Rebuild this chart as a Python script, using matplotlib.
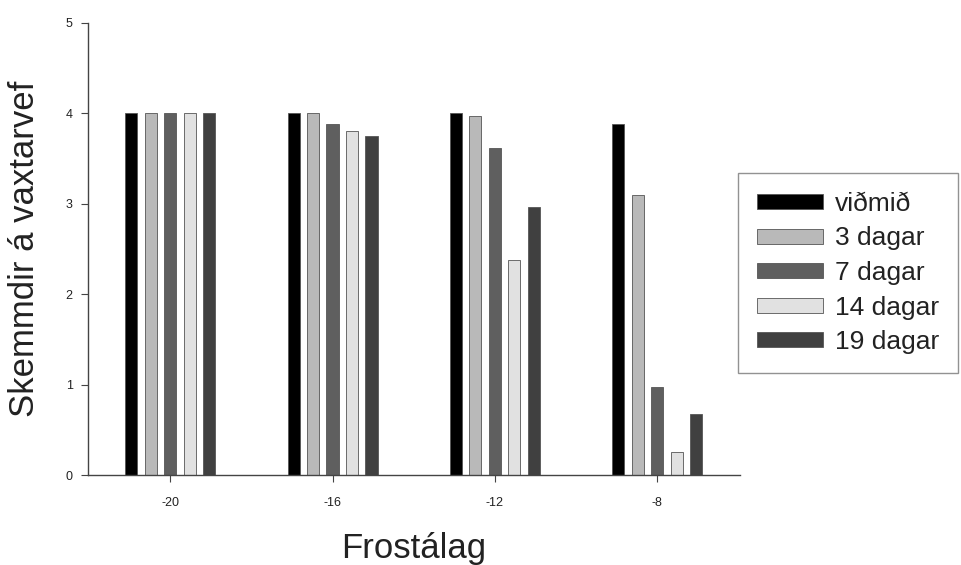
import numpy as np
import matplotlib
matplotlib.use("Agg")
from matplotlib import pyplot as plt

plt.rcParams['font.family'] = ['Liberation Sans', 'DejaVu Sans']

# data
frost = ['-20', '-16', '-12', '-8']
series = ['viðmið', '3 dagar', '7 dagar', '14 dagar', '19 dagar']
vidmid = [4.0, 4.0, 4.0, 3.88]
dagar3 = [4.0, 4.0, 3.97, 3.09]
dagar7 = [4.0, 3.88, 3.62, 0.97]
dagar14 = [4.0, 3.80, 2.38, 0.26]
dagar19 = [4.0, 3.75, 2.96, 0.68]
colors = ['#000000', '#b9b9b9', '#5f5f5f', '#e1e1e1', '#404040']

fig = plt.figure(figsize=(9.62, 5.65), dpi=100)
ax = fig.add_axes([0.0915, 0.159, 0.678, 0.801])

x = np.arange(len(frost))
pitch = 0.12
width = 0.074
for i, (name, vals) in enumerate(zip(series, [vidmid, dagar3, dagar7, dagar14, dagar19])):
    ax.bar(x + (i - 2) * pitch, vals, width, color=colors[i], edgecolor='#555555',
           linewidth=0.6, label=name)

ax.set_xlim(-0.505, 3.51)
ax.set_ylim(0, 5)
ax.set_xticks(x)
ax.set_xticklabels(frost)
ax.set_yticks(range(6))
ax.tick_params(axis='x', length=5, pad=11, labelsize=9, color='#444444', labelcolor='#222222')
ax.tick_params(axis='y', length=5, pad=6, labelsize=9, color='#444444', labelcolor='#222222')
for s in ['top', 'right']:
    ax.spines[s].set_visible(False)
for s in ['left', 'bottom']:
    ax.spines[s].set_color('#444444')
    ax.spines[s].set_linewidth(1.0)

ax.set_xlabel('Frostálag', fontsize=25, color='#222222', labelpad=16)
ax.set_ylabel('Skemmdir á vaxtarvef', fontsize=25, color='#222222', labelpad=18)

leg = ax.legend(loc='upper left', bbox_to_anchor=(0.767, 0.694), bbox_transform=fig.transFigure,
                fontsize=19, frameon=True, fancybox=False, edgecolor='#777777',
                handlelength=2.5, handleheight=0.5, labelspacing=0.40,
                handletextpad=0.45, borderpad=0.72, borderaxespad=0)
leg.get_frame().set_linewidth(1.0)
for t in leg.get_texts():
    t.set_color('#222222')

plt.savefig('out.png', dpi=100)
